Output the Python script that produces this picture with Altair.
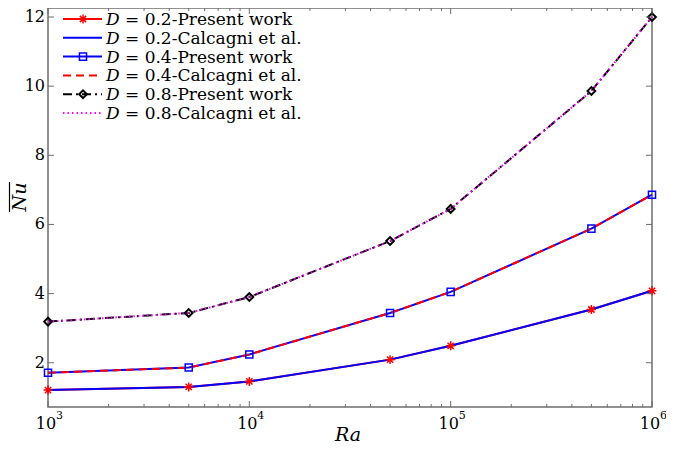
import altair as alt
import pandas as pd

# ---------------- data ----------------
ra = [1e3, 5e3, 1e4, 5e4, 1e5, 5e5, 1e6]
nu_d02_present = [1.21, 1.30, 1.46, 2.09, 2.49, 3.54, 4.08]
nu_d02_calcagni = [1.21, 1.30, 1.46, 2.09, 2.49, 3.54, 4.08]
nu_d04_present = [1.71, 1.86, 2.24, 3.44, 4.05, 5.88, 6.86]
nu_d04_calcagni = [1.71, 1.86, 2.24, 3.44, 4.05, 5.88, 6.86]
nu_d08_present = [3.19, 3.44, 3.90, 5.52, 6.45, 9.86, 12.0]
nu_d08_calcagni = [3.19, 3.44, 3.90, 5.52, 6.45, 9.86, 12.0]

series_labels = [
    "= 0.2-Present work",
    "= 0.2-Calcagni et al.",
    "= 0.4-Present work",
    "= 0.4-Calcagni et al.",
    "= 0.8-Present work",
    "= 0.8-Calcagni et al.",
]
series_values = [nu_d02_present, nu_d02_calcagni, nu_d04_present,
                 nu_d04_calcagni, nu_d08_present, nu_d08_calcagni]

x_major = [1e3, 1e4, 1e5, 1e6]
x_exponents = ["3", "4", "5", "6"]
x_minor = [k * 10 ** e for e in (3, 4, 5) for k in range(2, 10)]
y_ticks = [2, 4, 6, 8, 10, 12]

# ---------------- styles ----------------
W, H = 604, 399
FONT = "DejaVu Serif"
GRAY = "#6e6e6e"
STAR = "M-1,0L1,0M0,-1L0,1M-0.7,-0.7L0.7,0.7M-0.7,0.7L0.7,-0.7"

styles = [
    dict(color="#ff0000", dash=None, shape=STAR, size=80, msw=1.5),
    dict(color="#0000ff", dash=None, shape=None),
    dict(color="#0000ff", dash=None, shape="square", size=50, msw=1.5),
    dict(color="#ff0000", dash=[8, 5], shape=None),
    dict(color="#000000", dash=[9, 4, 2, 4], shape="diamond", size=60, msw=2),
    dict(color="#ff00ff", dash=[1.5, 3], shape=None),
]

xs = alt.Scale(type="log", domain=[1e3, 1e6], nice=False)
ys = alt.Scale(domain=[0.72, 12.26], nice=False, zero=False)

layers = []

# lines
for i, vals in enumerate(series_values):
    st = styles[i]
    df = pd.DataFrame({"Ra": ra, "Nu": vals})
    kw = dict(color=st["color"], strokeWidth=2)
    if st["dash"]:
        kw["strokeDash"] = st["dash"]
    layers.append(
        alt.Chart(df).mark_line(**kw).encode(
            x=alt.X("Ra:Q", scale=xs, axis=None),
            y=alt.Y("Nu:Q", scale=ys, axis=None),
        )
    )

# markers
for i, vals in enumerate(series_values):
    st = styles[i]
    if not st["shape"]:
        continue
    df = pd.DataFrame({"Ra": ra, "Nu": vals})
    layers.append(
        alt.Chart(df).mark_point(shape=st["shape"], size=st["size"], filled=False,
                                 color=st["color"], strokeWidth=st["msw"], opacity=1).encode(
            x=alt.X("Ra:Q", scale=xs, axis=None),
            y=alt.Y("Nu:Q", scale=ys, axis=None),
        )
    )

# inward ticks (MATLAB style box)
df_xmaj = pd.DataFrame({"v": x_major})
df_xmin = pd.DataFrame({"v": x_minor})
df_y = pd.DataFrame({"v": y_ticks})
for dfx, ln in ((df_xmaj, 6), (df_xmin, 3)):
    for y0, y1 in ((H, H - ln), (0, ln)):
        layers.append(
            alt.Chart(dfx).mark_rule(color=GRAY, strokeWidth=1).encode(
                x=alt.X("v:Q", scale=xs, axis=None),
                y=alt.value(y0), y2=alt.value(y1),
            )
        )
for x0, x1 in ((0, 6), (W, W - 6)):
    layers.append(
        alt.Chart(df_y).mark_rule(color=GRAY, strokeWidth=1).encode(
            y=alt.Y("v:Q", scale=ys, axis=None),
            x=alt.value(x0), x2=alt.value(x1),
        )
    )

# y tick labels
layers.append(
    alt.Chart(df_y).mark_text(font=FONT, fontSize=16, align="right",
                              baseline="middle", color="black").encode(
        y=alt.Y("v:Q", scale=ys, axis=None), x=alt.value(-3), text="v:Q")
)

# x tick labels 10^n
df_dec = pd.DataFrame({"v": x_major, "e": x_exponents})
layers.append(
    alt.Chart(df_dec).mark_text(font=FONT, fontSize=16, align="center",
                                baseline="alphabetic", dx=-2, color="black").encode(
        x=alt.X("v:Q", scale=xs, axis=None), y=alt.value(421), text=alt.value("10"))
)
layers.append(
    alt.Chart(df_dec).mark_text(font=FONT, fontSize=11, align="left",
                                baseline="alphabetic", dx=8, color="black").encode(
        x=alt.X("v:Q", scale=xs, axis=None), y=alt.value(411), text="e:N")
)

one = pd.DataFrame({"a": [0]})

# axis titles
layers.append(
    alt.Chart(one).mark_text(font=FONT, fontSize=19, fontStyle="italic", align="center",
                             baseline="alphabetic", color="black").encode(
        x=alt.value(300), y=alt.value(432.5), text=alt.value("Ra"))
)
layers.append(
    alt.Chart(one).mark_text(font=FONT, fontSize=19, fontStyle="italic", align="center",
                             baseline="alphabetic", angle=270, color="black").encode(
        x=alt.value(-22), y=alt.value(189), text=alt.value("Nu"))
)
layers.append(
    alt.Chart(one).mark_rule(color="black", strokeWidth=1.2).encode(
        x=alt.value(-38.5), y=alt.value(174), y2=alt.value(204))
)

# legend
row_y = [11, 29.8, 48.6, 67.4, 86.2, 105]
for i, lab in enumerate(series_labels):
    st = styles[i]
    yy = row_y[i]
    kw = dict(color=st["color"], strokeWidth=2)
    if st["dash"]:
        kw["strokeDash"] = st["dash"]
    layers.append(alt.Chart(one).mark_rule(**kw).encode(
        x=alt.value(15), x2=alt.value(54), y=alt.value(yy)))
    if st["shape"]:
        layers.append(alt.Chart(one).mark_point(
            shape=st["shape"], size=st["size"], filled=False, color=st["color"],
            strokeWidth=st["msw"], opacity=1).encode(x=alt.value(35), y=alt.value(yy)))
    layers.append(alt.Chart(one).mark_text(
        font=FONT, fontSize=17, fontStyle="italic", align="left", baseline="middle",
        color="black").encode(x=alt.value(58), y=alt.value(yy + 1), text=alt.value("D")))
    layers.append(alt.Chart(one).mark_text(
        font=FONT, fontSize=17, align="left", baseline="middle",
        color="black").encode(x=alt.value(77), y=alt.value(yy + 1), text=alt.value(lab)))

chart = alt.layer(*layers).properties(
    width=W, height=H,
    autosize=alt.AutoSizeParams(type="none"),
    padding={"left": 40, "top": 0, "right": 14, "bottom": 39},
    background="white",
).configure_view(stroke=GRAY, strokeWidth=1.5)

chart.save("out.html", embed_options={"renderer": "svg", "actions": False})
